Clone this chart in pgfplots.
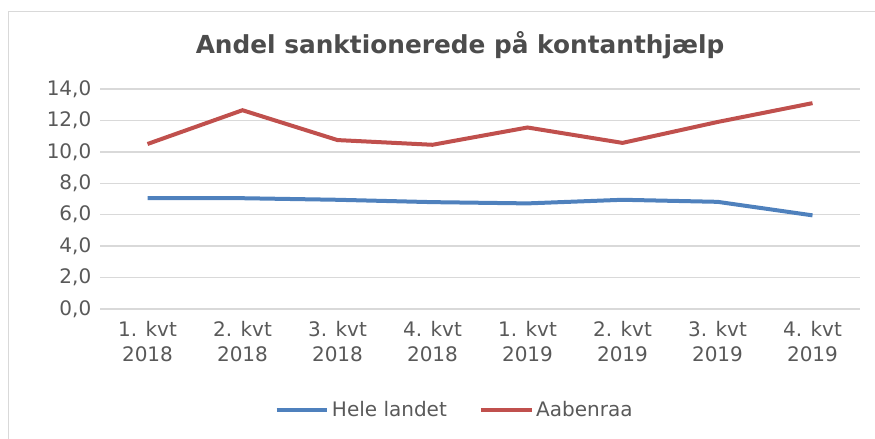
\documentclass[border=0pt]{standalone}
\usepackage{pgfplots}
\pgfplotsset{compat=1.18}
\usepackage{fontspec}
\setmainfont{DejaVu Sans}
\definecolor{blueS}{HTML}{4F81BD}
\definecolor{redS}{HTML}{C0504D}
\definecolor{txt}{HTML}{595959}
\definecolor{gridc}{HTML}{D9D9D9}
\begin{document}
\begin{tikzpicture}
\path[use as bounding box] (0pt,0pt) rectangle (656.25pt,329.25pt);
\draw[gridc, line width=0.75pt] (6pt,-5pt) -- (6pt,320.25pt) -- (660pt,320.25pt);
\node[font=\bfseries\fontsize{18.6}{21}\selectfont, text=txt!85!black] at (345pt,295.5pt) {Andel sanktionerede på kontanthjælp};
\begin{axis}[at={(75pt,97.5pt)}, anchor=south west, scale only axis,
  width=570pt, height=165pt,
  xmin=-0.5, xmax=7.5, ymin=0, ymax=14,
  ytick={0,2,...,14},
  xtick={0,...,7},
  xticklabels={{1. kvt\\2018},{2. kvt\\2018},{3. kvt\\2018},{4. kvt\\2018},{1. kvt\\2019},{2. kvt\\2019},{3. kvt\\2019},{4. kvt\\2019}},
  xticklabel style={align=center, font=\fontsize{15}{18.75}\selectfont, text=txt, yshift=-6pt},
  yticklabel style={font=\fontsize{15}{18}\selectfont, text=txt, xshift=-3pt,
    /pgf/number format/.cd, fixed, fixed zerofill, precision=1, use comma},
  /pgf/number format/assume math mode=true,
  axis line style={draw=none},
  major tick length=0pt,
  ymajorgrids, major grid style={gridc, line width=1pt},
  legend columns=2,
  legend style={at={(0.467,-0.459)}, anchor=center, draw=none, fill=none,
    font=\fontsize{15}{18}\selectfont, text=txt, inner xsep=1pt,
    /tikz/every even column/.append style={column sep=22pt}},
  legend image code/.code={\draw[#1, line width=3pt] (0pt,0pt) -- (38pt,0pt);},
]
\addplot[blueS, line width=3pt] coordinates {(0,7.05) (1,7.05) (2,6.95) (3,6.8) (4,6.72) (5,6.95) (6,6.82) (7,5.96)};
\addlegendentry{Hele landet}
\addplot[redS, line width=3pt] coordinates {(0,10.5) (1,12.65) (2,10.75) (3,10.45) (4,11.55) (5,10.57) (6,11.9) (7,13.1)};
\addlegendentry{Aabenraa}
\end{axis}
\end{tikzpicture}
\end{document}
